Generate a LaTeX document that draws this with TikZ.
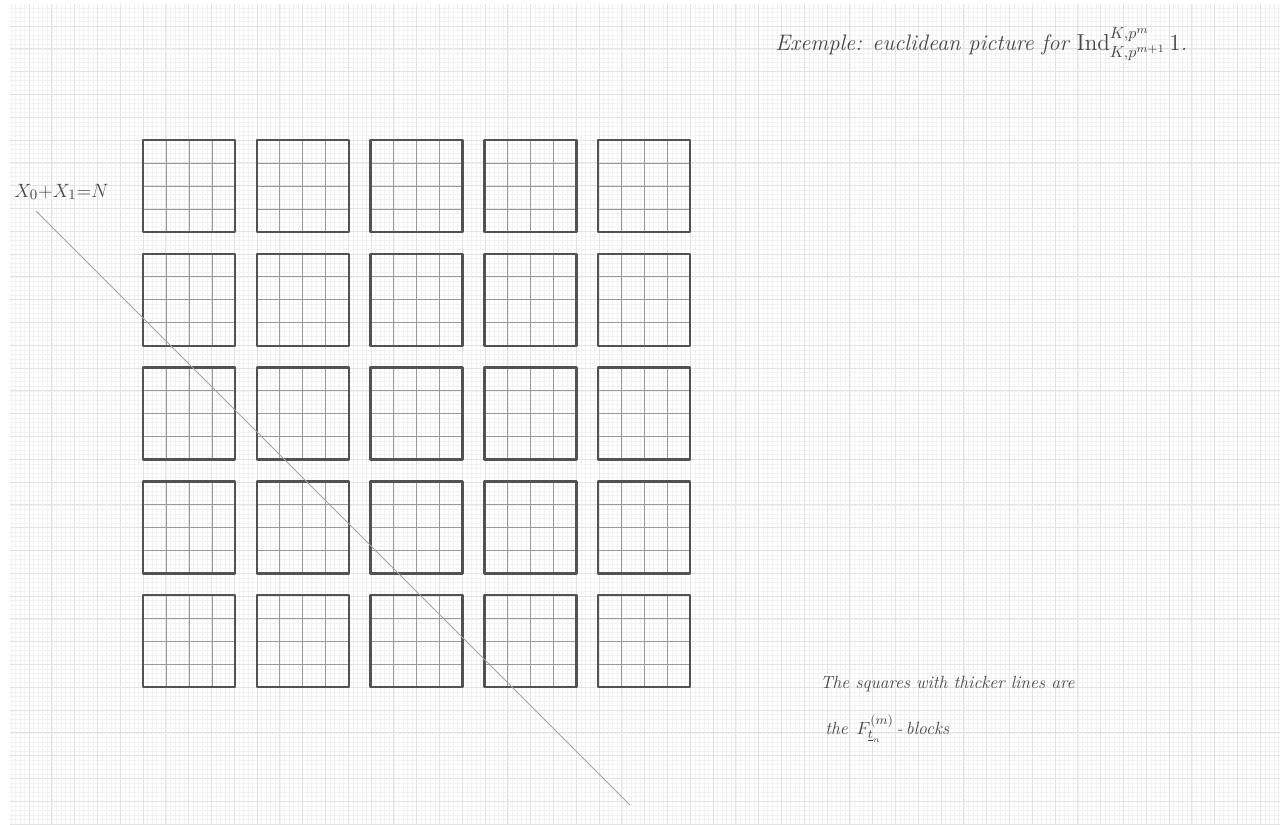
\documentclass[tikz,border=0pt]{standalone}
\usepackage{amsmath}
\usepackage{tikz}
\usetikzlibrary{positioning}

\begin{document}
\begin{tikzpicture}[
    x=0.02193cm, y=-0.02193cm,
    font=\itshape,
    fineline/.style={draw=black!5, line width=0.3pt},
    mmline/.style={draw=black!11, line width=0.4pt},
    blockline/.style={draw=black!68, line width=1.5pt, line join=round},
    innerline/.style={draw=black!40, line width=0.6pt},
    diagline/.style={draw=black!36, line width=0.6pt},
    note/.style={text=black!72, anchor=base west, inner sep=0pt},
  ]
  \useasboundingbox (0,0) rectangle (1280,824);

  % graph paper, 1mm and 5mm lines
  \foreach \k in {1,...,279}
    \draw[fineline] ({6.2+4.56*\k},4) -- ({6.2+4.56*\k},824);
  \foreach \k in {1,...,179}
    \draw[fineline] (10,{3.2+4.56*\k}) -- (1280,{3.2+4.56*\k});
  \foreach \k in {1,...,55}
    \draw[mmline] ({6.2+22.8*\k},4) -- ({6.2+22.8*\k},824);
  \foreach \k in {1,...,36}
    \draw[mmline] (10,{3.2+22.8*\k}) -- (1280,{3.2+22.8*\k});

  % the 5x5 blocks
  \foreach \col in {0,...,4}
    \foreach \row in {0,...,4} {
      \coordinate (sq\col\row) at ({143+113.8*\col},{140+113.8*\row});
      \foreach \k in {1,2,3} {
        \draw[innerline] (sq\col\row) ++({23*\k},0) -- ++(0,92);
        \draw[innerline] (sq\col\row) ++(0,{23*\k}) -- ++(92,0);
      }
      \draw[blockline] (sq\col\row) rectangle ++(92,92);
    }

  % the line X_0+X_1=N
  \coordinate (diagstart) at (36,211);
  \coordinate (diagend) at (630,805);
  \draw[diagline] (diagstart) -- (diagend);

  \node[note, font=\fontsize{13}{15}\selectfont] (linelabel) at (14,197)
    {$X_0{+}X_1{=}N$};
  \node[note, font=\fontsize{14}{16}\selectfont\itshape] (title) at (775,50)
    {Exemple: euclidean picture for
     $\mathrm{Ind}^{K,p^m}_{K,p^{m+1}}\,1$.};
  \node[note, font=\fontsize{11}{13}\selectfont\itshape] (remark) at (820,688)
    {The squares with thicker lines are};
  \node[note, font=\fontsize{11}{13}\selectfont\itshape] (remarktwo) at (825,734)
    {the\enspace $F^{(m)}_{\underline{t}_n}$\,-\,blocks};
\end{tikzpicture}
\end{document}
